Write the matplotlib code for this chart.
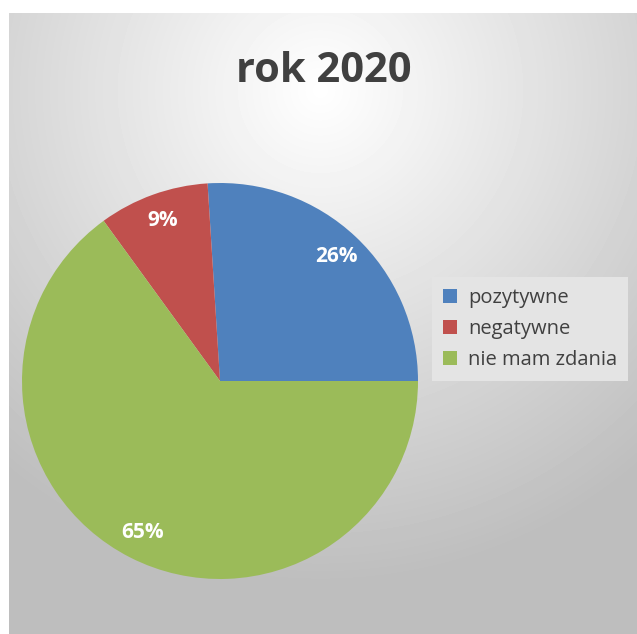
import numpy as np
import matplotlib.pyplot as plt

# dane z wykresu
etykiety = ['pozytywne', 'negatywne', 'nie mam zdania']
wartosci = [26, 9, 65]
kolory = ['#4F81BD', '#C0504D', '#9BBB59']
tytul = 'rok 2020'

plt.rcParams['font.family'] = ['Open Sans', 'DejaVu Sans']

W, H = 637, 634
fig = plt.figure(figsize=(W / 100, H / 100), dpi=100)
fig.patch.set_facecolor('white')

# tło z gradientem radialnym (jasne przy tytule, szare przy brzegach)
bg = fig.add_axes([9 / W, 0, 1 - 9 / W, (H - 13) / H])
xx, yy = np.meshgrid(np.arange(9, W), np.arange(13, H))
d = np.sqrt((xx - 320) ** 2 + (yy - 90) ** 2) / 490
d = np.clip(d, 0, 1)
szary = 1 - d * (1 - 190 / 255)
bg.imshow(szary, cmap='gray', vmin=0, vmax=1, aspect='auto',
          interpolation='bilinear')
bg.axis('off')

# wykres kołowy
cx, cy, r = 220, 381, 198
ax = fig.add_axes([(cx - r) / W, (H - cy - r) / H, 2 * r / W, 2 * r / H])
wedges, teksty, procenty = ax.pie(wartosci, colors=kolory, startangle=0,
                                  counterclock=True, autopct='%1.0f%%',
                                  pctdistance=0.86, radius=1,
                                  textprops=dict(color='white', fontsize=15,
                                                 fontweight='bold'))
ax.set_xlim(-1, 1)
ax.set_ylim(-1, 1)
ax.axis('off')

fig.text(324 / W, 1 - 72 / H, tytul, ha='center', va='center',
         fontsize=30, fontweight='bold', color='#404040')

leg = fig.legend(wedges, etykiety, loc='upper left',
                 bbox_to_anchor=(432 / W, 1 - 277 / H), borderaxespad=0,
                 frameon=True, fontsize=14.5, handlelength=0.7,
                 handleheight=0.7, handletextpad=0.55, labelspacing=0.55,
                 borderpad=0.55, fancybox=False, labelcolor='#404040')
leg.get_frame().set_facecolor('#E4E4E4')
leg.get_frame().set_edgecolor('none')
leg.get_frame().set_alpha(1)

plt.savefig('out.png', dpi=100, facecolor='white')
